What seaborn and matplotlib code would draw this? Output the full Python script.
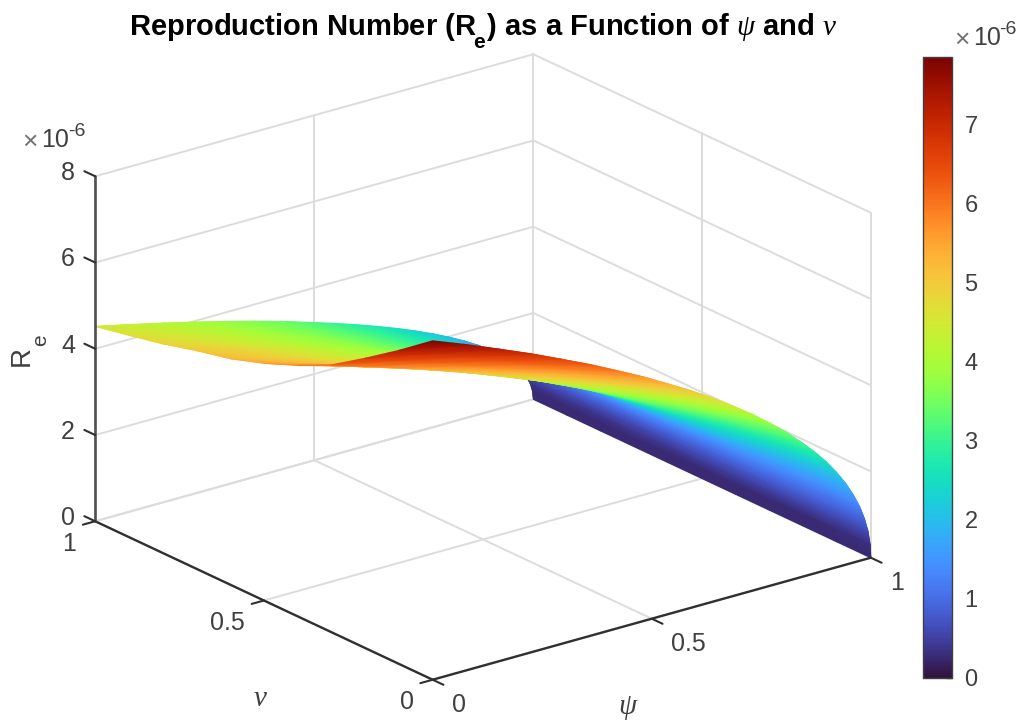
import numpy as np
import matplotlib
matplotlib.use('Agg')
import matplotlib.pyplot as plt
import matplotlib.tri as mtri
from matplotlib.collections import TriMesh
from mpl_toolkits.mplot3d import proj3d
import seaborn as sns

# Values in units of 1e-6
psi = [1.0, 0.9984, 0.9936, 0.9856, 0.9744, 0.96, 0.9424, 0.9216, 0.8976, 0.8704, 0.84, 0.8064, 0.7696,
       0.7296, 0.6864, 0.64, 0.5904, 0.5376, 0.4816, 0.4224, 0.36, 0.2944, 0.2256, 0.1536, 0.0784, 0.0]
nu = [0.0, 0.1, 0.2, 0.3, 0.4, 0.5, 0.6, 0.7, 0.8, 0.9, 1.0]

re_nu00 = [0, .31, .63, .94, 1.26, 1.57, 1.89, 2.20, 2.52, 2.83, 3.14, 3.46, 3.77, 4.09, 4.40, 4.72, 5.03, 5.34, 5.66, 5.97, 6.29, 6.60, 6.92, 7.23, 7.55, 7.86]
re_nu01 = [0, .29, .58, .87, 1.16, 1.45, 1.74, 2.04, 2.33, 2.62, 2.91, 3.20, 3.49, 3.78, 4.07, 4.36, 4.65, 4.94, 5.23, 5.53, 5.82, 6.11, 6.40, 6.69, 6.98, 7.27]
re_nu02 = [0, .27, .54, .81, 1.08, 1.34, 1.61, 1.88, 2.15, 2.42, 2.69, 2.96, 3.23, 3.49, 3.76, 4.03, 4.30, 4.57, 4.84, 5.11, 5.38, 5.65, 5.91, 6.18, 6.45, 6.72]
re_nu03 = [0, .25, .50, .74, .99, 1.24, 1.49, 1.74, 1.98, 2.23, 2.48, 2.73, 2.98, 3.22, 3.47, 3.72, 3.97, 4.22, 4.46, 4.71, 4.96, 5.21, 5.46, 5.70, 5.95, 6.20]
re_nu04 = [0, .23, .47, .70, .93, 1.16, 1.40, 1.63, 1.86, 2.10, 2.33, 2.56, 2.79, 3.03, 3.26, 3.49, 3.72, 3.96, 4.19, 4.42, 4.66, 4.89, 5.12, 5.35, 5.59, 5.82]
re_nu05 = [0, .22, .44, .66, .88, 1.10, 1.32, 1.54, 1.76, 1.98, 2.20, 2.42, 2.64, 2.86, 3.08, 3.30, 3.52, 3.74, 3.96, 4.18, 4.40, 4.62, 4.84, 5.06, 5.28, 5.50]
re_nu06 = [0, .21, .42, .63, .84, 1.05, 1.26, 1.47, 1.68, 1.89, 2.10, 2.31, 2.52, 2.72, 2.93, 3.14, 3.35, 3.56, 3.77, 3.98, 4.19, 4.40, 4.61, 4.82, 5.03, 5.24]
re_nu07 = [0, .20, .40, .61, .81, 1.01, 1.21, 1.42, 1.62, 1.82, 2.02, 2.23, 2.43, 2.63, 2.83, 3.04, 3.24, 3.44, 3.64, 3.85, 4.05, 4.25, 4.45, 4.66, 4.86, 5.06]
re_nu08 = [0, .19, .39, .58, .78, .97, 1.16, 1.36, 1.55, 1.75, 1.94, 2.13, 2.33, 2.52, 2.72, 2.91, 3.10, 3.30, 3.49, 3.69, 3.88, 4.07, 4.27, 4.46, 4.66, 4.85]
re_nu09 = [0, .19, .37, .56, .75, .94, 1.12, 1.31, 1.50, 1.68, 1.87, 2.06, 2.25, 2.43, 2.62, 2.81, 3.00, 3.18, 3.37, 3.56, 3.74, 3.93, 4.12, 4.31, 4.49, 4.68]
re_nu10 = [0, .18, .36, .54, .72, .90, 1.08, 1.27, 1.45, 1.63, 1.81, 1.99, 2.17, 2.35, 2.53, 2.71, 2.89, 3.07, 3.25, 3.44, 3.62, 3.80, 3.98, 4.16, 4.34, 4.52]

plane_ticks = [0, 0.5, 1]
plane_labels = ['0', '0.5', '1']
z_ticks = [0, 2, 4, 6, 8]
cbar_ticks = [0, 1, 2, 3, 4, 5, 6, 7]
cbar_max = 7.86

sns.set_theme(style='white')
plt.rcParams['font.family'] = ['Liberation Sans', 'DejaVu Sans']
plt.rcParams['mathtext.fontset'] = 'custom'
plt.rcParams['mathtext.rm'] = 'Liberation Sans'
plt.rcParams['mathtext.bf'] = 'Liberation Sans:bold'
plt.rcParams['mathtext.it'] = 'Liberation Serif:italic'

ink = '#404040'
grid = '#dcdcdc'
turbo = sns.color_palette('turbo', as_cmap=True)
norm = plt.Normalize(0, cbar_max)

W, H = 1017, 722
fig = plt.figure(figsize=(W / 100, H / 100), dpi=100)
# oversized square axes so nothing is clipped, the box centre lands at (483, 367)
ax = fig.add_axes([-30.5 / W, -158.5 / H, 1000 / W, 1000 / H], projection='3d',
                  proj_type='ortho', computed_zorder=False)
ax.set_box_aspect((1, 1, 0.669), zoom=0.84)
ax.view_init(elev=21.2, azim=-127.6)
ax.set_xlim(0, 1, view_margin=0)
ax.set_ylim(0, 1, view_margin=0)
ax.set_zlim(0, 8, view_margin=0)
ax.set_xticks([])
ax.set_yticks([])
ax.set_zticks([])
ax.set_axis_off()


def line3d(xs, ys, zs, color=grid, lw=1.4, zorder=1):
    ax.plot(xs, ys, zs, color=color, lw=lw, zorder=zorder, solid_capstyle='round')


# back walls and floor
for z in z_ticks:
    line3d([0, 1], [1, 1], [z, z])
    line3d([1, 1], [0, 1], [z, z])
for t in plane_ticks:
    line3d([t, t], [1, 1], [0, 8])
    line3d([1, 1], [t, t], [0, 8])
    line3d([t, t], [0, 1], [0, 0])
    line3d([0, 1], [t, t], [0, 0])

P, N = np.meshgrid(psi, nu)
Z = np.array([re_nu00, re_nu01, re_nu02, re_nu03, re_nu04, re_nu05,
              re_nu06, re_nu07, re_nu08, re_nu09, re_nu10])
# the darkest band in the picture never reaches the bottom colour of the bar
C = np.maximum(Z, 0.25)
face_c = (C[:-1, :-1] + C[1:, :-1] + C[:-1, 1:] + C[1:, 1:]) / 4
ax.plot_surface(P, N, Z, facecolors=turbo(norm(face_c)), shade=False, rstride=1, cstride=1,
                linewidth=0.5, antialiased=True, zorder=2)

# same facets again with interpolated shading, farthest triangles first
sx, sy, sz = proj3d.proj_transform(P.ravel(), N.ravel(), Z.ravel(), ax.get_proj())
rows, cols = Z.shape
idx = np.arange(rows * cols).reshape(rows, cols)
tris = np.vstack([
    np.c_[idx[:-1, :-1].ravel(), idx[1:, :-1].ravel(), idx[1:, 1:].ravel()],
    np.c_[idx[:-1, :-1].ravel(), idx[1:, 1:].ravel(), idx[:-1, 1:].ravel()],
])
tris = tris[np.argsort(-sz[tris].mean(axis=1))]
mesh = TriMesh(mtri.Triangulation(sx, sy, tris), cmap=turbo, norm=norm, zorder=2.5)
mesh.set_array(C.ravel())
mesh.do_3d_projection = lambda: 0
ax.add_collection(mesh, autolim=False)

# axis lines and ticks
dark = '#303030'
line3d([0, 1], [0, 0], [0, 0], color=dark, lw=1.7, zorder=3)
line3d([0, 0], [0, 1], [0, 0], color=dark, lw=1.7, zorder=3)
line3d([0, 0], [1, 1], [0, 8], color='#505050', lw=1.9, zorder=3)
for t, lab in zip(plane_ticks, plane_labels):
    line3d([t, t], [0, -0.032], [0, 0], color=dark, lw=1.5, zorder=3)
    line3d([0, -0.028], [t, t], [0, 0], color=dark, lw=1.5, zorder=3)
    ax.text(t, -0.056, -0.38, lab, color=ink, fontsize=18, ha='left', va='center')
    ax.text(-0.0433, t, -0.40, lab, color=ink, fontsize=18, ha='right', va='center')
for z in z_ticks:
    line3d([0, 0], [1, 1.032], [z, z], color=dark, lw=1.5, zorder=3)
    ax.text(0, 1.06, z - 0.15, str(z), color=ink, fontsize=18, ha='right', va='center')


def px_text(x, y, s, **kw):
    return fig.text(x / W, 1 - y / H, s, **kw)


# the subscripts sit lower than mathtext would put them, so they are separate texts
px_text(483, 27, r'Reproduction Number (R$\;\;$) as a Function of $\psi$ and $\nu$',
        color='black', fontsize=21, fontweight='bold', ha='center', va='center')
px_text(479.5, 42, 'e', color='black', fontsize=15, fontweight='bold', ha='center', va='center')
px_text(22, 356, 'R', color=ink, fontsize=20, rotation=90, ha='center', va='center')
px_text(41, 340, 'e', color=ink, fontsize=15, rotation=90, ha='center', va='center')
px_text(260, 698, r'$\nu$', color=ink, fontsize=21, ha='center', va='center')
px_text(628, 708, r'$\psi$', color=ink, fontsize=21, ha='center', va='center')

# scale notes
px_text(22, 142, '×', color='#707070', fontsize=19, ha='left', va='center')
px_text(41, 140, '10', color=ink, fontsize=18, ha='left', va='center')
px_text(68, 131, '-6', color=ink, fontsize=14, ha='left', va='center')
px_text(954, 40, '×', color='#707070', fontsize=19, ha='left', va='center')
px_text(973, 38, '10', color=ink, fontsize=18, ha='left', va='center')
px_text(999, 30, '-6', color=ink, fontsize=14, ha='left', va='center')

# colour bar
cax = fig.add_axes([923 / W, 1 - 678 / H, 29 / W, 621 / H])
cbar = fig.colorbar(plt.cm.ScalarMappable(norm=norm, cmap=turbo), cax=cax)
cbar.set_ticks(cbar_ticks)
cbar.ax.tick_params(direction='in', length=4, width=1, color=ink, labelcolor=ink, labelsize=17, pad=9, right=True)
cbar.outline.set_edgecolor(ink)
cbar.outline.set_linewidth(1)

fig.savefig('out.png', dpi=100, facecolor='white')
